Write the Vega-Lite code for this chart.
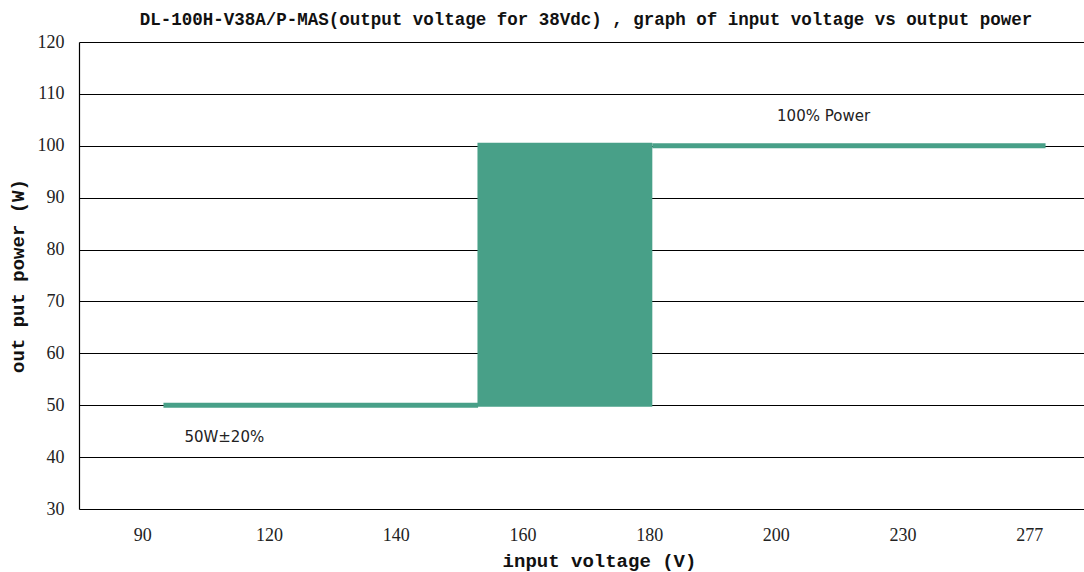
{
  "$schema": "https://vega.github.io/schema/vega-lite/v6.json",
  "autosize": {"type": "none"},
  "width": 1014,
  "height": 467,
  "padding": {"left": 79, "top": 42, "right": 0, "bottom": 63},
  "background": "white",
  "config": {"view": {"stroke": null}},
  "title": {
    "text": "DL-100H-V38A/P-MAS(output voltage for 38Vdc) , graph of input voltage vs output power",
    "font": "Liberation Mono",
    "fontSize": 17.5,
    "fontWeight": "bold",
    "color": "#111",
    "anchor": "middle",
    "offset": 5
  },
  "datasets": {
    "block": [{"v1": 152.9, "v2": 180.5, "p1": 49.7, "p2": 100.6}],
    "segments": [
      {"v1": 95, "v2": 153, "p": 50},
      {"v1": 180.5, "v2": 288, "p": 100}
    ],
    "labels": [
      {"v": 109.4, "p": 43.9, "label": "50W±20%"},
      {"v": 211.3, "p": 105.7, "label": "100% Power"}
    ]
  },
  "layer": [
    {
      "data": {"name": "block"},
      "mark": {"type": "rect", "color": "#48a088"},
      "encoding": {
        "x": {
          "field": "v1", "type": "quantitative",
          "scale": {
            "domain": [75, 90, 120, 140, 160, 180, 200, 230, 277, 300.5],
            "range": [0, 63.35, 190.05, 316.75, 443.45, 570.15, 696.85, 823.55, 950.25, 1014]
          },
          "axis": {
            "values": [90, 120, 140, 160, 180, 200, 230, 277],
            "grid": false, "domain": false, "ticks": false,
            "labelFlush": false, "labelOverlap": false,
            "labelFont": "Liberation Serif", "labelFontSize": 18, "labelColor": "#222",
            "labelPadding": 17,
            "title": "input voltage (V)",
            "titleFont": "Liberation Mono", "titleFontSize": 19, "titleFontWeight": "bold",
            "titleColor": "#111", "titlePadding": 7, "titleX": 520
          }
        },
        "x2": {"field": "v2"},
        "y": {
          "field": "p1", "type": "quantitative",
          "scale": {"domain": [30, 120], "nice": false, "zero": false},
          "axis": {
            "values": [30, 40, 50, 60, 70, 80, 90, 100, 110, 120],
            "grid": true, "gridColor": "#000", "gridOpacity": 1, "gridWidth": 1,
            "domain": true, "domainColor": "#000", "domainWidth": 1.2,
            "ticks": false,
            "labelFont": "Liberation Serif", "labelFontSize": 18, "labelColor": "#222",
            "labelPadding": 15,
            "title": "out put power (W)",
            "titleFont": "Liberation Mono", "titleFontSize": 19, "titleFontWeight": "bold",
            "titleColor": "#111", "titlePadding": 10
          }
        },
        "y2": {"field": "p2"}
      }
    },
    {
      "data": {"name": "segments"},
      "mark": {"type": "rule", "color": "#48a088", "strokeWidth": 5, "strokeCap": "butt"},
      "encoding": {
        "x": {"field": "v1", "type": "quantitative"},
        "x2": {"field": "v2"},
        "y": {"field": "p", "type": "quantitative"}
      }
    },
    {
      "data": {"name": "labels"},
      "mark": {"type": "text", "font": "DejaVu Sans", "fontSize": 15, "color": "#222"},
      "encoding": {
        "x": {"field": "v", "type": "quantitative"},
        "y": {"field": "p", "type": "quantitative"},
        "text": {"field": "label"}
      }
    }
  ]
}
